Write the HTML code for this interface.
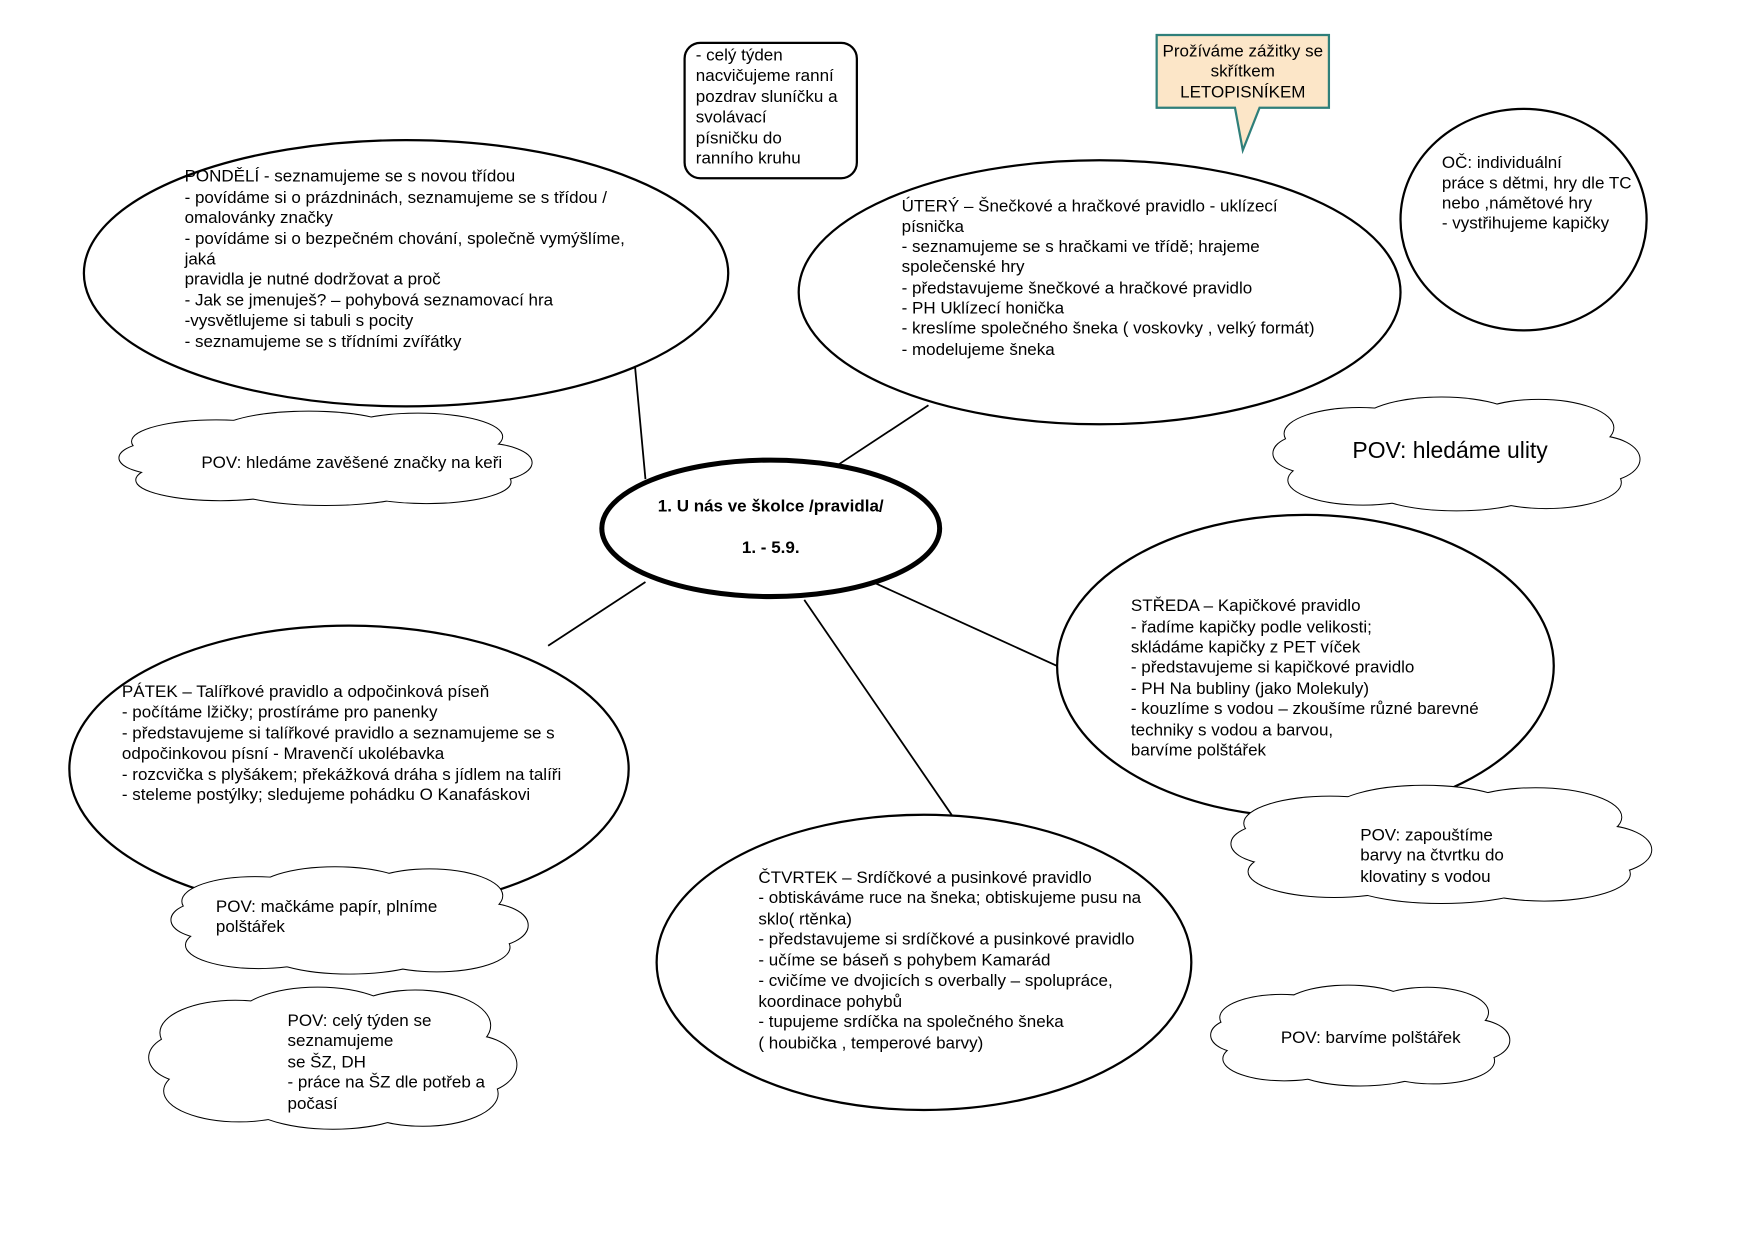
<!DOCTYPE html>
<html><head><meta charset="utf-8"><style>
html,body{margin:0;padding:0;background:#fff;}
svg{display:block;}
text{font-family:"Liberation Sans",Arial,sans-serif;font-size:15.2px;fill:#000;}
</style></head><body>
<svg width="1754" height="1239" viewBox="0 0 1568 1107" xmlns="http://www.w3.org/2000/svg">
<defs>
<symbol id="cloud" viewBox="0 0 100 100" preserveAspectRatio="none">
<g fill="#fff" stroke="#000" stroke-width="2" vector-effect="non-scaling-stroke">
<ellipse cx="24" cy="33" rx="20" ry="22" vector-effect="non-scaling-stroke"/>
<ellipse cx="46" cy="25" rx="22" ry="23" vector-effect="non-scaling-stroke"/>
<ellipse cx="72" cy="28" rx="20" ry="24" vector-effect="non-scaling-stroke"/>
<ellipse cx="87" cy="55" rx="12" ry="20" vector-effect="non-scaling-stroke"/>
<ellipse cx="74" cy="75" rx="20" ry="22" vector-effect="non-scaling-stroke"/>
<ellipse cx="50" cy="77" rx="24" ry="22" vector-effect="non-scaling-stroke"/>
<ellipse cx="25" cy="73" rx="20" ry="21" vector-effect="non-scaling-stroke"/>
<ellipse cx="12" cy="50" rx="11" ry="17" vector-effect="non-scaling-stroke"/>
</g>
<g fill="#fff" stroke="none">
<ellipse cx="24" cy="33" rx="20" ry="22"/>
<ellipse cx="46" cy="25" rx="22" ry="23"/>
<ellipse cx="72" cy="28" rx="20" ry="24"/>
<ellipse cx="87" cy="55" rx="12" ry="20"/>
<ellipse cx="74" cy="75" rx="20" ry="22"/>
<ellipse cx="50" cy="77" rx="24" ry="22"/>
<ellipse cx="25" cy="73" rx="20" ry="21"/>
<ellipse cx="12" cy="50" rx="11" ry="17"/>
<ellipse cx="50" cy="50" rx="40" ry="30"/>
</g>
</symbol>
</defs>

<!-- connectors -->
<g stroke="#000" stroke-width="1.6">
<line x1="567" y1="320" x2="577" y2="428"/>
<line x1="748" y1="416" x2="830" y2="362"/>
<line x1="778" y1="519" x2="945" y2="595"/>
<line x1="719" y1="536" x2="852" y2="730"/>
<line x1="577" y1="520" x2="490" y2="577"/>
</g>

<!-- top rounded box -->
<rect x="612" y="38" width="154" height="121" rx="14" fill="#fff" stroke="#000" stroke-width="2"/>
<text x="622" y="54">- celý týden</text>
<text x="622" y="72">nacvičujeme ranní</text>
<text x="622" y="91">pozdrav sluníčku a</text>
<text x="622" y="109">svolávací</text>
<text x="622" y="128">písničku do</text>
<text x="622" y="146">ranního kruhu</text>

<!-- Monday -->
<ellipse cx="363" cy="244" rx="288" ry="119" fill="#fff" stroke="#000" stroke-width="2"/>
<text x="165" y="162">PONDĚLÍ - seznamujeme se s novou třídou</text>
<text x="165" y="181">- povídáme si o prázdninách, seznamujeme se s třídou /</text>
<text x="165" y="199">omalovánky značky</text>
<text x="165" y="218">- povídáme si o bezpečném chování, společně vymýšlíme,</text>
<text x="165" y="236">jaká</text>
<text x="165" y="254">pravidla je nutné dodržovat a proč</text>
<text x="165" y="273">- Jak se jmenuješ? – pohybová seznamovací hra</text>
<text x="165" y="291">-vysvětlujeme si tabuli s pocity</text>
<text x="165" y="310">- seznamujeme se s třídními zvířátky</text>

<!-- cloud 1 -->
<use href="#cloud" x="103" y="366" width="376" height="86"/>
<text x="180" y="418">POV: hledáme zavěšené značky na keři</text>

<!-- center -->
<ellipse cx="689" cy="472" rx="151" ry="61" fill="#fff" stroke="#000" stroke-width="4.5"/>
<text x="689" y="457" text-anchor="middle" font-weight="bold">1. U nás ve školce /pravidla/</text>
<text x="689" y="494" text-anchor="middle" font-weight="bold">1. - 5.9.</text>

<!-- callout -->
<path d="M1034 31 H1188 V96 H1126 L1111 134 L1104 96 H1034 Z" fill="#fce6c8" stroke="#2f7f7a" stroke-width="2"/>
<text x="1111" y="50" text-anchor="middle">Prožíváme zážitky se</text>
<text x="1111" y="68" text-anchor="middle">skřítkem</text>
<text x="1111" y="87" text-anchor="middle">LETOPISNÍKEM</text>

<!-- Tuesday -->
<ellipse cx="983" cy="261" rx="269" ry="118" fill="#fff" stroke="#000" stroke-width="2"/>
<text x="806" y="189">ÚTERÝ – Šnečkové a hračkové pravidlo - uklízecí</text>
<text x="806" y="207">písnička</text>
<text x="806" y="225">- seznamujeme se s hračkami ve třídě; hrajeme</text>
<text x="806" y="243">společenské hry</text>
<text x="806" y="262">- představujeme šnečkové a hračkové pravidlo</text>
<text x="806" y="280">- PH Uklízecí honička</text>
<text x="806" y="298">- kreslíme společného šneka ( voskovky , velký formát)</text>
<text x="806" y="317">- modelujeme šneka</text>

<!-- OČ -->
<ellipse cx="1362" cy="196" rx="110" ry="99" fill="#fff" stroke="#000" stroke-width="2"/>
<text x="1289" y="150">OČ: individuální</text>
<text x="1289" y="168">práce s dětmi, hry dle TC</text>
<text x="1289" y="186">nebo ,námětové hry</text>
<text x="1289" y="204">- vystřihujeme kapičky</text>

<!-- cloud ulity -->
<use href="#cloud" x="1135" y="353" width="334" height="104"/>
<text x="1209" y="409" style="font-size:20.5px">POV: hledáme ulity</text>

<!-- Wednesday -->
<ellipse cx="1167" cy="595" rx="222" ry="135" fill="#fff" stroke="#000" stroke-width="2"/>
<text x="1011" y="546">STŘEDA – Kapičkové pravidlo</text>
<text x="1011" y="565">- řadíme kapičky podle velikosti;</text>
<text x="1011" y="583">skládáme kapičky z PET víček</text>
<text x="1011" y="601">- představujeme si kapičkové pravidlo</text>
<text x="1011" y="620">- PH Na bubliny (jako Molekuly)</text>
<text x="1011" y="638">- kouzlíme s vodou – zkoušíme různé barevné</text>
<text x="1011" y="657">techniky s vodou a barvou,</text>
<text x="1011" y="675">barvíme polštářek</text>

<!-- cloud zapouštíme -->
<use href="#cloud" x="1097" y="700" width="383" height="108"/>
<text x="1216" y="751">POV: zapouštíme</text>
<text x="1216" y="769">barvy na čtvrtku do</text>
<text x="1216" y="788">klovatiny s vodou</text>

<!-- Friday -->
<ellipse cx="312" cy="687" rx="250" ry="128" fill="#fff" stroke="#000" stroke-width="2"/>
<text x="109" y="623">PÁTEK – Talířkové pravidlo a odpočinková píseň</text>
<text x="109" y="641">- počítáme lžičky; prostíráme pro panenky</text>
<text x="109" y="660">- představujeme si talířkové pravidlo a seznamujeme se s</text>
<text x="109" y="678">odpočinkovou písní - Mravenčí ukolébavka</text>
<text x="109" y="697">- rozcvička s plyšákem; překážková dráha s jídlem na talíři</text>
<text x="109" y="715">- steleme postýlky; sledujeme pohádku O Kanafáskovi</text>

<!-- cloud mačkáme -->
<use href="#cloud" x="150" y="773" width="325" height="98"/>
<text x="193" y="815">POV: mačkáme papír, plníme</text>
<text x="193" y="833">polštářek</text>

<!-- Thursday -->
<ellipse cx="826" cy="860" rx="239" ry="132" fill="#fff" stroke="#000" stroke-width="2"/>
<text x="678" y="789">ČTVRTEK – Srdíčkové a pusinkové pravidlo</text>
<text x="678" y="807">- obtiskáváme ruce na šneka; obtiskujeme pusu na</text>
<text x="678" y="826">sklo( rtěnka)</text>
<text x="678" y="844">- představujeme si srdíčkové a pusinkové pravidlo</text>
<text x="678" y="863">- učíme se báseň s pohybem Kamarád</text>
<text x="678" y="881">- cvičíme ve dvojicích s overbally – spolupráce,</text>
<text x="678" y="900">koordinace pohybů</text>
<text x="678" y="918">- tupujeme srdíčka na společného šneka</text>
<text x="678" y="937">( houbička , temperové barvy)</text>

<!-- cloud barvíme -->
<use href="#cloud" x="1080" y="879" width="272" height="92"/>
<text x="1145" y="932">POV: barvíme polštářek</text>

<!-- cloud celý týden -->
<use href="#cloud" x="130" y="880" width="335" height="130"/>
<text x="257" y="917">POV: celý týden se</text>
<text x="257" y="935">seznamujeme</text>
<text x="257" y="954">se ŠZ, DH</text>
<text x="257" y="972">- práce na ŠZ dle potřeb a</text>
<text x="257" y="991">počasí</text>
</svg>
</body></html>
